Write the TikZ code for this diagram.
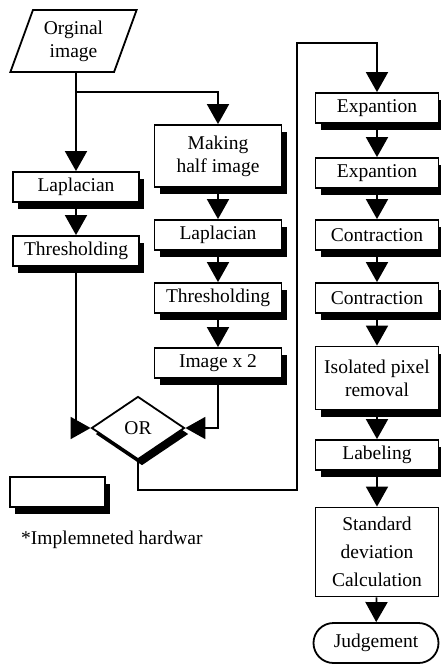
\documentclass[tikz,border=0pt]{standalone}
\usepackage{fontspec}
\setmainfont{Liberation Serif}
\usetikzlibrary{shapes.geometric,shapes.misc,shadows,arrows.meta}

\begin{document}
\begin{tikzpicture}[x=1pt,y=-1pt,
  every node/.style={font=\fontsize{19.5}{23}\selectfont, inner sep=0pt},
  box/.style={draw, fill=white, line width=1.8pt, minimum width=127pt, minimum height=30pt, align=center},
  hw/.style={box, drop shadow={shadow xshift=5pt, shadow yshift=-7pt, opacity=1, fill=black}},
  rbox/.style={hw, minimum width=123pt},
  arr/.style={line width=1.8pt, -{Triangle[width=22pt,length=20pt]}},
  link/.style={line width=1.8pt}]
\useasboundingbox (0,0) rectangle (441,665);

\node [trapezium, trapezium left angle=68, trapezium right angle=112, trapezium stretches=true,
  draw, line width=1.8pt, minimum width=127pt, minimum height=62pt, align=center] (orig) at (73.5,41) {Orginal\\image};

\node [hw, minimum width=126pt] (lap1) at (76,187) {Laplacian};
\node [hw, minimum width=126pt] (thr1) at (76,251) {Thresholding};

\node [hw, minimum height=62pt] (half) at (218,156) {Making\\half image};
\node [hw] (lap2) at (218,235) {Laplacian};
\node [hw] (thr2) at (218,298) {Thresholding};
\node [hw] (dbl) at (218,363) {Image x 2};

\node [diamond, draw, fill=white, line width=1.8pt, minimum width=93pt, minimum height=63pt,
  drop shadow={shadow xshift=4pt, shadow yshift=-6pt, opacity=1, fill=black}] (or) at (138,428) {OR};

\node [rbox] (exp1) at (377,108) {Expantion};
\node [rbox] (exp2) at (377,173) {Expantion};
\node [rbox] (con1) at (377,235) {Contraction};
\node [rbox] (con2) at (377,298) {Contraction};
\node [rbox, minimum height=63pt] (iso) at (377,378) {Isolated pixel\\removal};
\node [rbox] (lab) at (377,455) {Labeling};
\node [box, minimum width=123pt, minimum height=89pt, font=\fontsize{19.5}{28}\selectfont] (std) at (377,552) {Standard\\deviation\\Calculation};
\node [rounded rectangle, draw, line width=1.8pt, minimum width=125pt, minimum height=40pt] (judge) at (376,643) {Judgement};

\node [hw, minimum width=95pt] (key) at (57.5,492) {};
\node [anchor=west] (note) at (21,540) {*Implemneted hardwar};

\coordinate (split) at (76,92);
\coordinate (low) at (297,490);
\coordinate (high) at (297,43);

\draw [link] (orig.south -| split) -- (split);
\draw [arr] (split) -- (lap1);
\draw [arr] (split) -| (half);
\draw [arr] (lap1) -- (thr1);
\draw [arr] (thr1) |- (or);
\draw [arr] (half) -- (lap2);
\draw [arr] (lap2) -- (thr2);
\draw [arr] (thr2) -- (dbl);
\draw [arr] (dbl) |- (or);
\draw [arr] (or) |- (low) -- (high) -| (exp1);
\draw [arr] (exp1) -- (exp2);
\draw [arr] (exp2) -- (con1);
\draw [arr] (con1) -- (con2);
\draw [arr] (con2) -- (iso);
\draw [arr] (iso) -- (lab);
\draw [arr] (lab) -- (std);
\draw [arr] (std) -- (judge);
\end{tikzpicture}
\end{document}
